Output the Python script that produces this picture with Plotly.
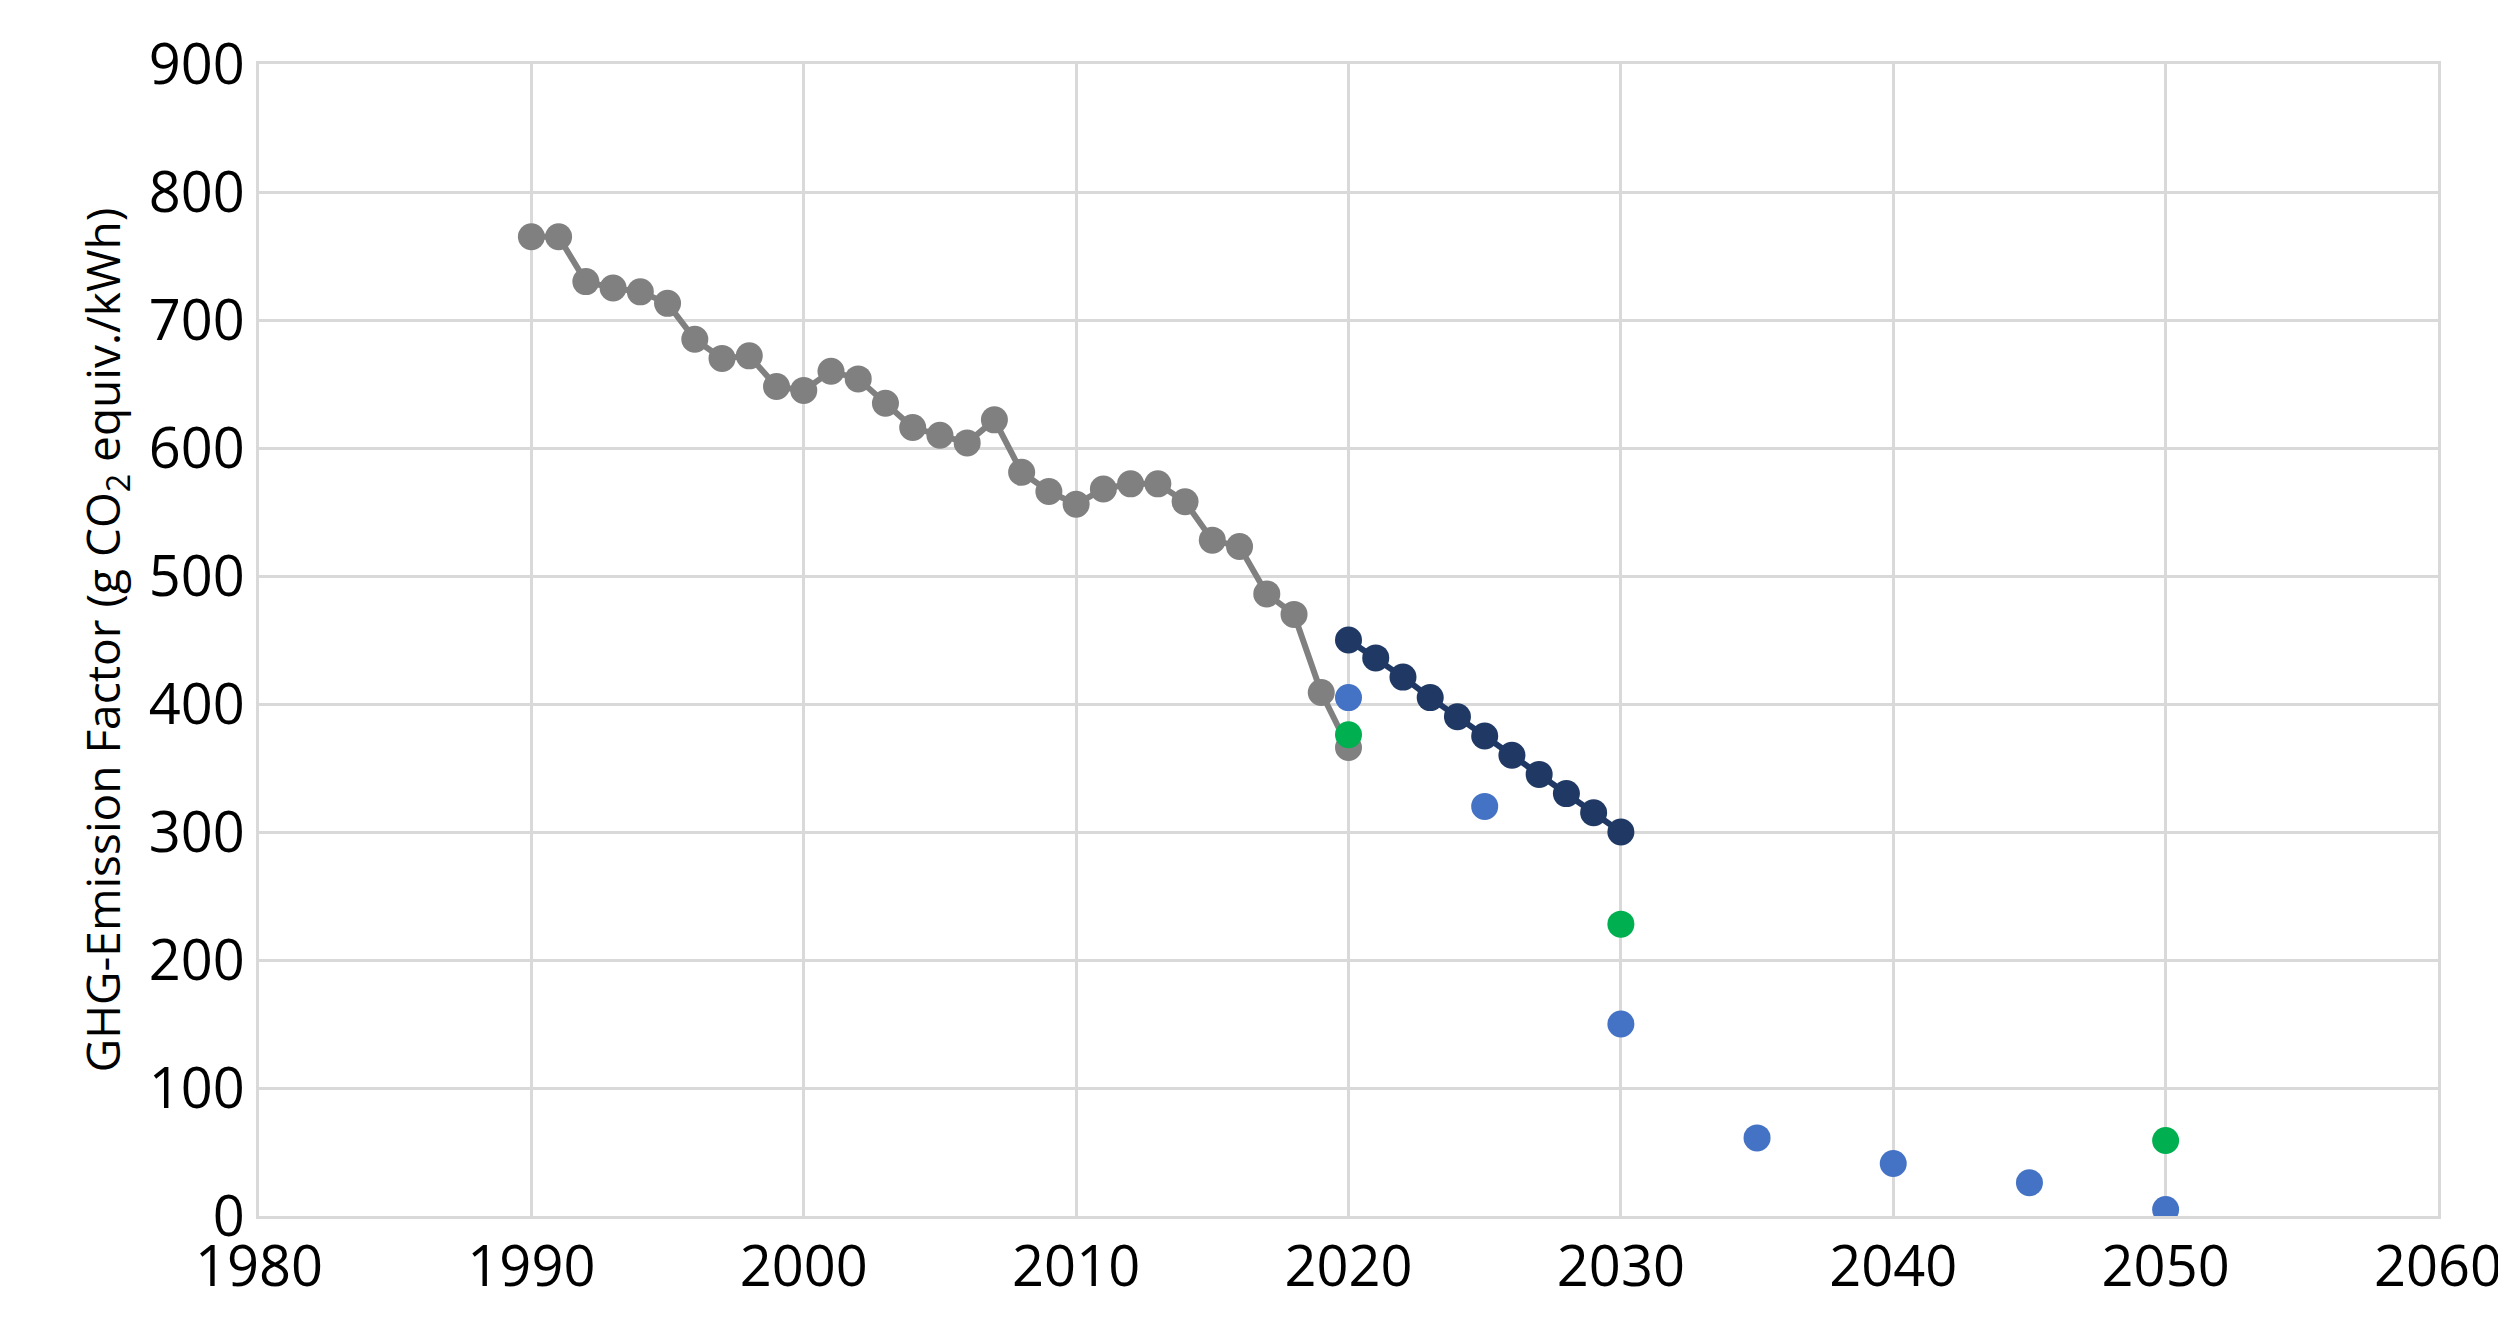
import plotly.graph_objects as go

# historical series
hist_years = list(range(1990, 2021))
hist_values = [765, 765, 730, 725, 722, 713, 685, 670, 672, 648, 645, 660, 654, 635,
               616, 610, 604, 622, 581, 566, 556, 568, 572, 572, 558, 528, 523, 486,
               470, 409, 366]

# linear path 2020-2030
path_years = list(range(2020, 2031))
path_values = [450, 436, 421, 405, 390, 375, 360, 345, 330, 315, 300]

# scenario points
blue_years = [2020, 2025, 2030, 2035, 2040, 2045, 2050]
blue_values = [405, 320, 150, 61, 41, 26, 5]

green_years = [2020, 2030, 2050]
green_values = [376, 228, 59]

fig = go.Figure()
fig.add_trace(go.Scatter(x=hist_years, y=hist_values, mode='lines+markers',
                         line=dict(color='#808080', width=6),
                         marker=dict(color='#808080', size=27)))
fig.add_trace(go.Scatter(x=path_years, y=path_values, mode='lines+markers',
                         line=dict(color='#1f3864', width=6),
                         marker=dict(color='#1f3864', size=27)))
fig.add_trace(go.Scatter(x=blue_years, y=blue_values, mode='markers',
                         marker=dict(color='#4472c4', size=27)))
fig.add_trace(go.Scatter(x=green_years, y=green_values, mode='markers',
                         marker=dict(color='#00b050', size=27)))

fig.update_layout(
    width=2506, height=1329,
    showlegend=False,
    plot_bgcolor='white', paper_bgcolor='white',
    margin=dict(l=251, r=71, t=56, b=121),
    font=dict(family='Open Sans', size=56, color='black'),
)
fig.update_xaxes(range=[1980, 2060], dtick=10, showgrid=True, gridcolor='#d9d9d9',
                 gridwidth=3, zeroline=False, showline=True, linecolor='#d9d9d9',
                 linewidth=3, mirror=True, ticks='', tickfont=dict(size=56))
fig.update_yaxes(range=[0, 900], dtick=100, showgrid=True, gridcolor='#d9d9d9',
                 gridwidth=3, zeroline=False, showline=True, linecolor='#d9d9d9',
                 linewidth=3, mirror=True, ticks='', tickfont=dict(size=56),
                 title=dict(text='GHG-Emission Factor (g CO<sub>2</sub> equiv./kWh)',
                            font=dict(size=46), standoff=14))

fig.write_html("out.html")
